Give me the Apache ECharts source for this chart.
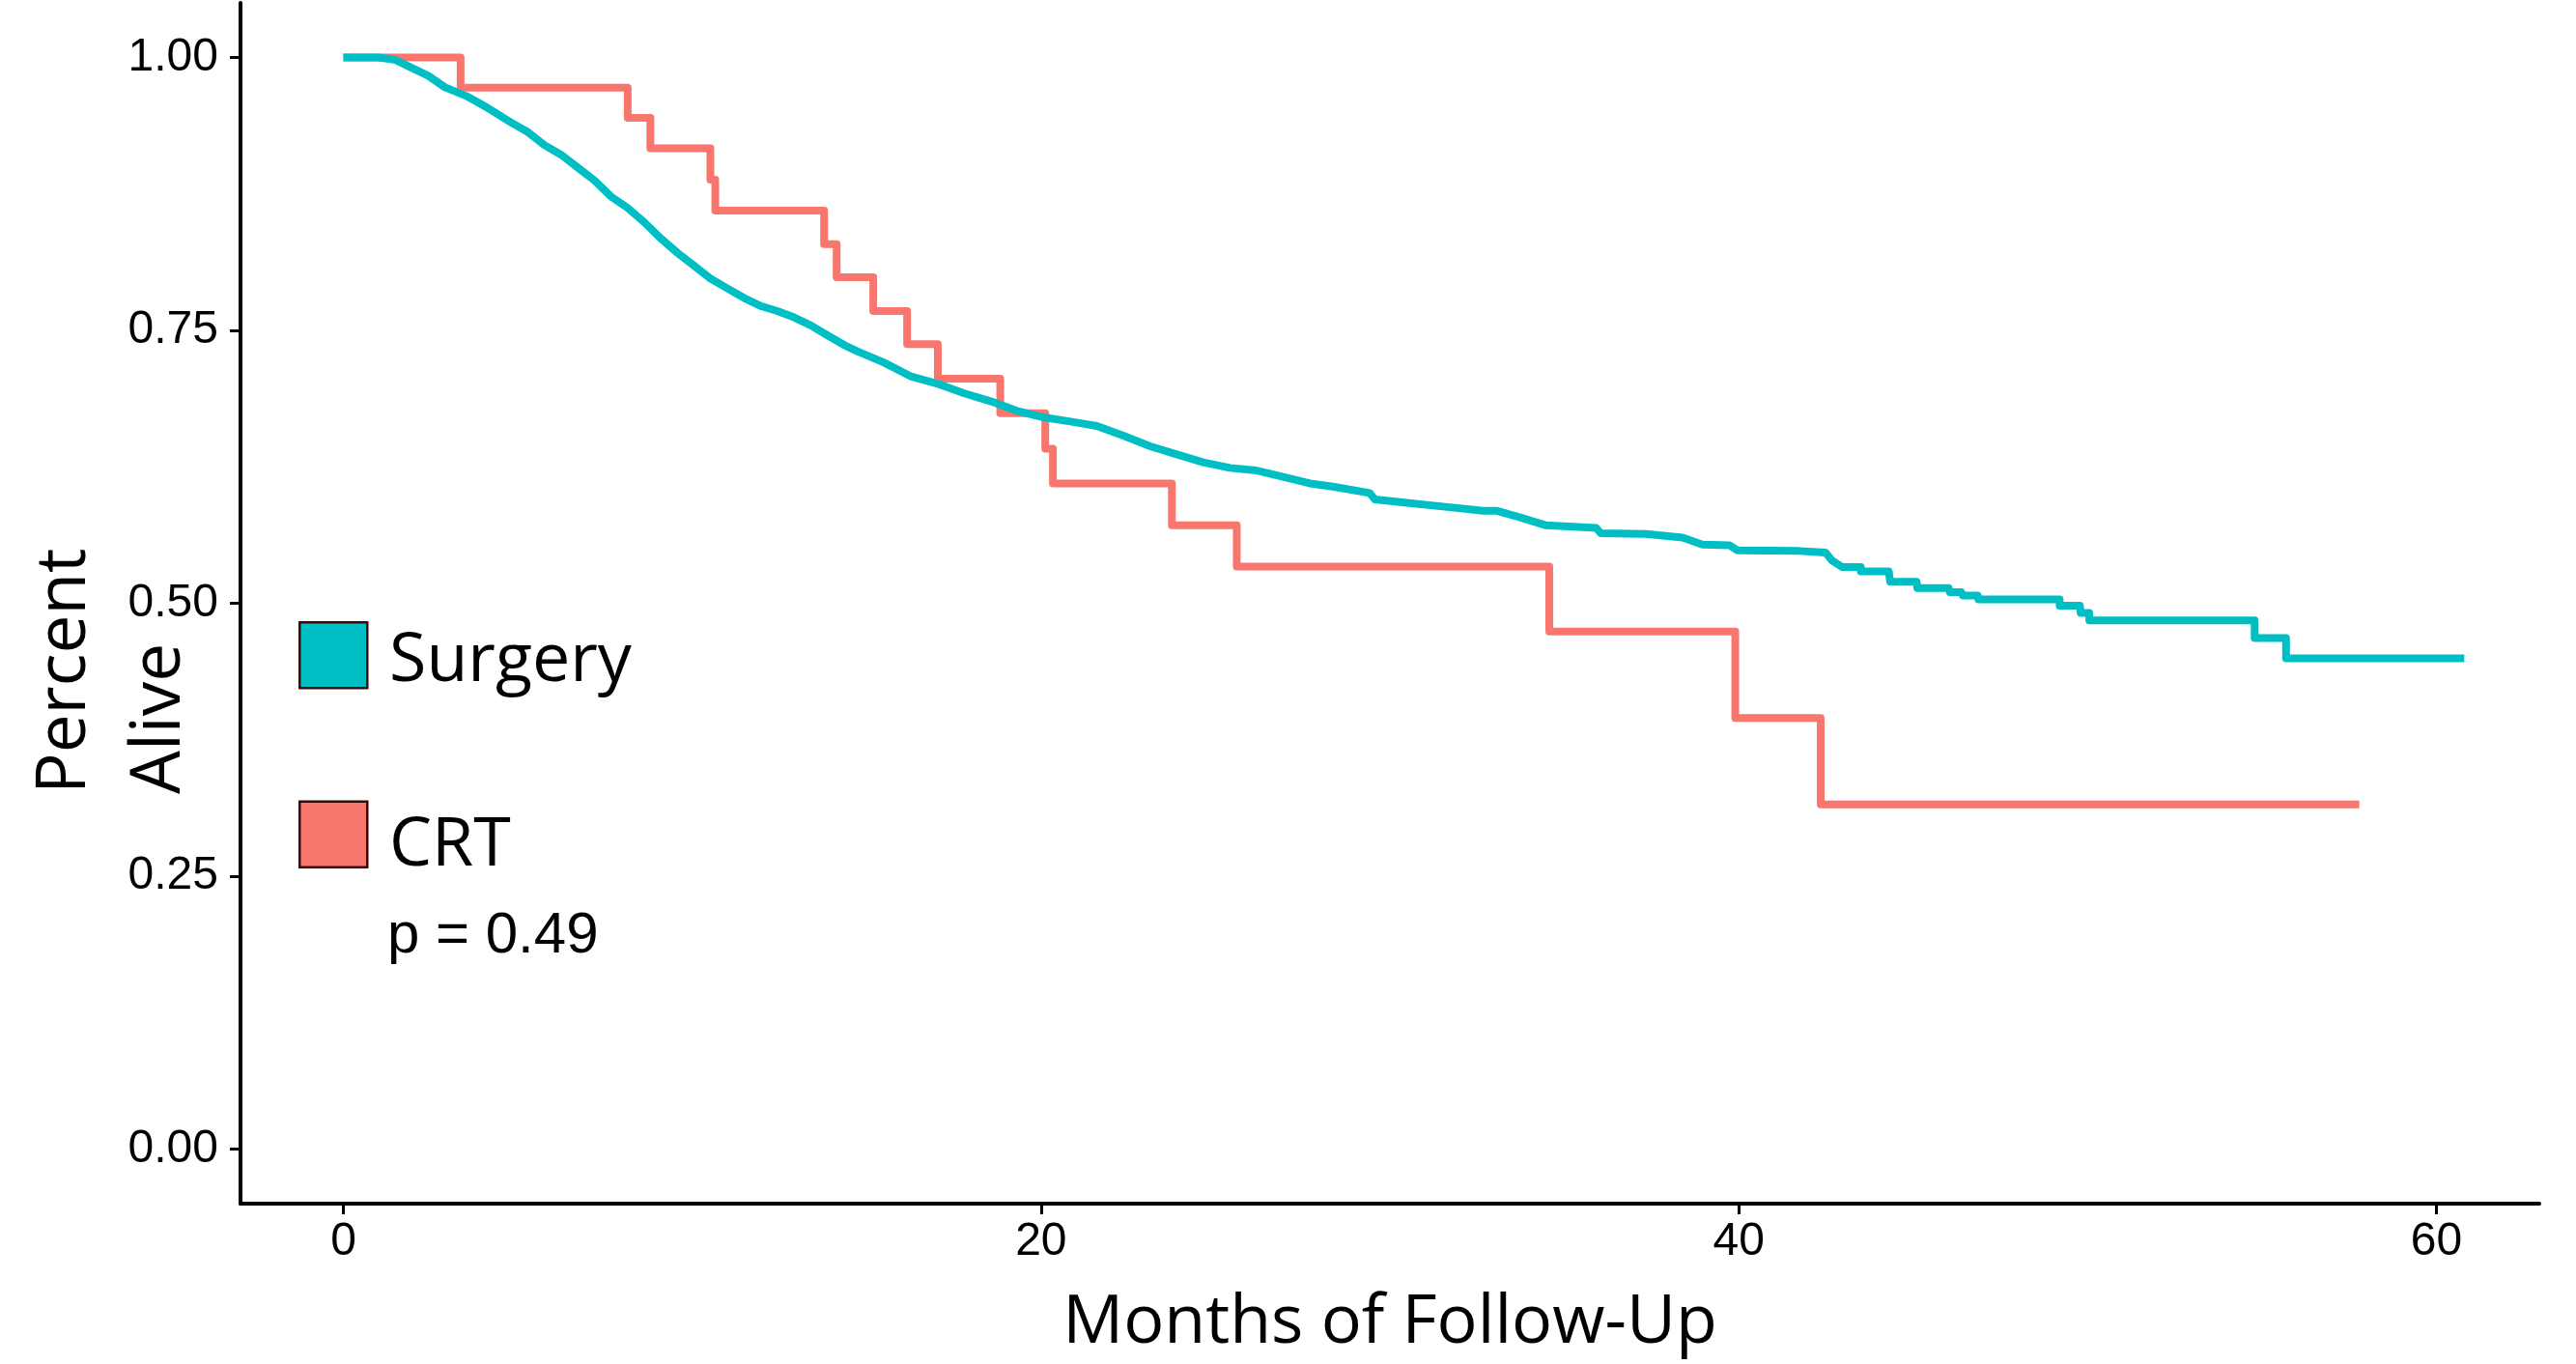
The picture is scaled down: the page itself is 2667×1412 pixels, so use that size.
<!DOCTYPE html>
<html>
<head>
<meta charset="utf-8">
<script src="https://cdn.jsdelivr.net/npm/echarts@6/dist/echarts.min.js"></script>
<style>
html, body { margin: 0; padding: 0; background: #ffffff; }
#chart { width: 2667px; height: 1412px; }
</style>
</head>
<body>
<div id="chart"></div>
<script>
// ---- Data ----
const legendNames = ['Surgery', 'CRT'];

// CRT (Kaplan-Meier step curve): time of each drop and survival after it
const crtTime = [0, 3.36, 8.15, 8.80, 10.52, 10.66, 13.78, 14.14, 15.19, 16.16, 17.04, 18.83, 20.12, 20.34, 23.75, 25.61, 34.57, 39.90, 42.35, 57.79];
const crtSurv = [1.0, 0.9723, 0.9448, 0.9168, 0.888, 0.8598, 0.829, 0.7987, 0.7677, 0.7374, 0.7058, 0.6742, 0.6417, 0.6098, 0.5715, 0.5337, 0.4741, 0.3949, 0.3156, 0.3156];

// Surgery curve (dense steps traced as points, distinct late steps with both corners)
const surgeryTime = [0, 1.0, 1.47, 1.85, 2.43, 2.90, 3.57, 4.14, 4.81, 5.29, 5.76, 6.24, 6.72, 7.20, 7.67, 8.15, 8.63, 9.10, 9.58, 10.06, 10.53, 11.01, 11.49, 11.97, 12.44, 12.92, 13.40, 13.87, 14.35, 14.73, 15.50, 16.26, 17.02, 17.78, 18.55, 19.31, 20.07, 20.84, 21.60, 22.36, 23.13, 23.89, 24.65, 25.42, 26.18, 26.94, 27.71, 28.37, 29.42, 29.57, 30.28, 31.52, 32.67, 33.05, 33.71, 34.48, 35.91, 36.05, 37.34, 38.39, 38.96, 39.73, 39.96, 41.73, 42.49, 42.68, 42.97, 43.50, 43.50, 44.30, 44.34, 45.10, 45.12, 46.02, 46.05, 46.38, 46.42, 46.85, 46.87, 49.20, 49.20, 49.78, 49.80, 50.05, 50.05, 54.79, 54.79, 55.69, 55.69, 60.80];
const surgerySurv = [1.0, 1.0, 0.998, 0.9921, 0.9833, 0.9729, 0.964, 0.9537, 0.9404, 0.9316, 0.9198, 0.9109, 0.8991, 0.8873, 0.8726, 0.8622, 0.8489, 0.8342, 0.8209, 0.8091, 0.7973, 0.7884, 0.7796, 0.7722, 0.7677, 0.7619, 0.7545, 0.7456, 0.7367, 0.7309, 0.7205, 0.7079, 0.7013, 0.6925, 0.6851, 0.6763, 0.6703, 0.6665, 0.6624, 0.6535, 0.6438, 0.6364, 0.6291, 0.624, 0.6216, 0.6158, 0.6098, 0.6069, 0.601, 0.5951, 0.5927, 0.5886, 0.5848, 0.5848, 0.5789, 0.5714, 0.5691, 0.5641, 0.5635, 0.5602, 0.5538, 0.5532, 0.5485, 0.5479, 0.5464, 0.539, 0.5331, 0.5331, 0.5293, 0.5293, 0.5198, 0.5198, 0.5139, 0.5139, 0.5101, 0.5101, 0.507, 0.507, 0.5036, 0.5036, 0.4977, 0.4977, 0.4912, 0.4912, 0.4844, 0.4844, 0.4682, 0.4682, 0.4496, 0.4496];

const xTicks = [0, 20, 40, 60];
const yTicks = [0, 0.25, 0.5, 0.75, 1.0];
const xTitle = 'Months of Follow-Up';
const yTitle = 'Percent\nAlive';
const pValueText = 'p = 0.49';

// ---- Chart ----
const zip = (a, b) => a.map((t, i) => [t, b[i]]);
const chart = echarts.init(document.getElementById('chart'), null, { renderer: 'canvas', width: 2667, height: 1412 });

const tickFont = { fontFamily: 'Liberation Sans', fontSize: 48, color: '#000000' };
const legendFont = { fontFamily: 'Open Sans', fontSize: 70, fill: '#000', align: 'left', verticalAlign: 'middle' };

const option = {
  animation: false,
  backgroundColor: '#ffffff',
  grid: { left: 249, right: 38, top: 3, bottom: 166, containLabel: false },
  xAxis: {
    type: 'value', min: -2.95, max: 62.95,
    axisLine: { show: true, onZero: false, lineStyle: { color: '#000', width: 4 } },
    axisTick: { show: true, customValues: xTicks, length: 11, lineStyle: { color: '#000', width: 3 } },
    axisLabel: Object.assign({ customValues: xTicks, margin: 16 }, tickFont),
    splitLine: { show: false },
    name: xTitle, nameLocation: 'middle', nameGap: 89,
    nameTextStyle: { fontFamily: 'Open Sans', fontSize: 70, color: '#000' }
  },
  yAxis: {
    type: 'value', min: -0.05, max: 1.05,
    axisLine: { show: true, onZero: false, lineStyle: { color: '#000', width: 4 } },
    axisTick: { show: true, customValues: yTicks, length: 11, lineStyle: { color: '#000', width: 3 } },
    axisLabel: Object.assign({ customValues: yTicks, margin: 23, formatter: v => v.toFixed(2) }, tickFont),
    splitLine: { show: false }
  },
  legend: {
    data: legendNames, orient: 'vertical', left: 309, top: 643, padding: 0,
    itemWidth: 70, itemHeight: 68, itemGap: 115, icon: 'rect', selectedMode: false,
    itemStyle: { borderColor: '#3a0a0a', borderWidth: 2.5 },
    formatter: () => '',
    textStyle: { fontFamily: 'Open Sans', fontSize: 70, color: '#000' }
  },
  series: [
    {
      name: 'CRT', type: 'line', step: 'end', data: zip(crtTime, crtSurv),
      symbol: 'none', showSymbol: false, z: 2,
      lineStyle: { color: '#F8766D', width: 8, join: 'round', cap: 'butt' },
      itemStyle: { color: '#F8766D' }
    },
    {
      name: 'Surgery', type: 'line', data: zip(surgeryTime, surgerySurv),
      symbol: 'none', showSymbol: false, z: 3,
      lineStyle: { color: '#00BFC4', width: 8, join: 'round', cap: 'butt' },
      itemStyle: { color: '#00BFC4' }
    }
  ],
  graphic: [
    {
      type: 'text', x: 19, y: 822, rotation: Math.PI / 2,
      style: { text: yTitle, fontFamily: 'Open Sans', fontSize: 71, fill: '#000', align: 'left', verticalAlign: 'top', lineHeight: 98 }
    },
    { type: 'text', x: 403, y: 685, style: Object.assign({ text: legendNames[0] }, legendFont) },
    { type: 'text', x: 403, y: 876, style: Object.assign({ text: legendNames[1] }, legendFont) },
    {
      type: 'text', x: 401, y: 969,
      style: { text: pValueText, fontFamily: 'Liberation Sans', fontSize: 60, fill: '#000', align: 'left', verticalAlign: 'middle' }
    }
  ]
};
chart.setOption(option);
</script>
</body>
</html>
